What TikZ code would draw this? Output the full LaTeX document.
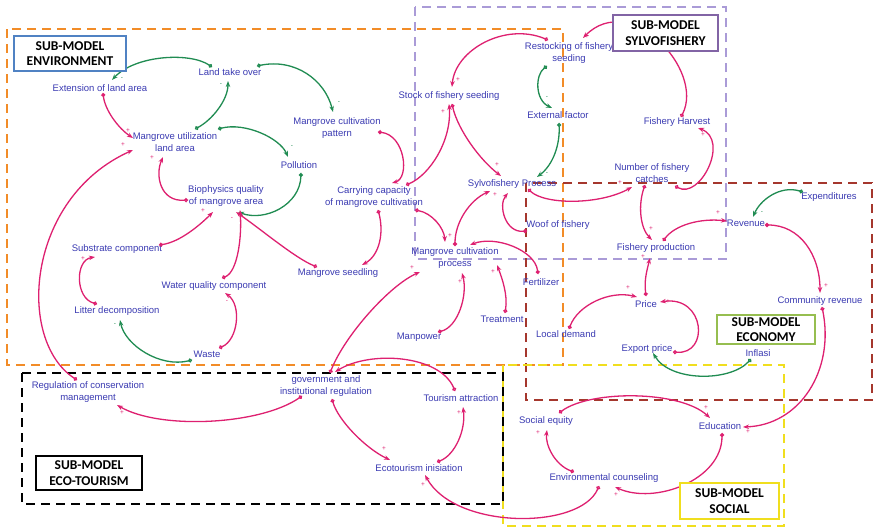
\documentclass[tikz,border=0pt]{standalone}
\usepackage{fontspec}
\setmainfont{Liberation Sans}
\newfontfamily\boxfont{Carlito}
\usetikzlibrary{arrows.meta}
\definecolor{varc}{RGB}{58,58,178}
\definecolor{pk}{RGB}{222,32,112}
\definecolor{gn}{RGB}{32,140,82}
\definecolor{orng}{RGB}{242,140,40}
\definecolor{lav}{RGB}{170,155,215}
\definecolor{brick}{RGB}{165,55,45}
\definecolor{ylw}{RGB}{240,222,30}
\definecolor{bluebox}{RGB}{80,130,195}
\definecolor{purbox}{RGB}{130,100,165}
\definecolor{grnbox}{RGB}{150,190,80}
\begin{document}
\begin{tikzpicture}[x=1pt,y=-1pt,
  var/.style={font=\fontsize{9.5}{12}\selectfont, text=varc, align=center, inner sep=0pt},
  lnk/.style={line width=1.3pt, {Circle[open,length=4pt,width=4pt]}-{Stealth[length=6pt,width=4.5pt]}},
  plk/.style={lnk, draw=pk},
  glk/.style={lnk, draw=gn},
  region/.style={line width=2.4pt, dash pattern=on 9pt off 6pt},
  smbox/.style={draw, line width=1.8pt, fill=white, align=center, inner sep=0pt,
    font=\boxfont\bfseries\fontsize{13.5}{15.5}\selectfont},
  sgp/.style={text=pk, font=\fontsize{6.5}{6.5}\selectfont, inner sep=0pt},
  sgg/.style={text=gn, font=\fontsize{6.5}{6.5}\selectfont, inner sep=0pt}]

\fill[white] (0,0) rectangle (874,530);
\useasboundingbox (0,0) rectangle (874,530);

% sub-model regions
\draw[region, lav, line width=2pt] (415,7) rectangle (726,259);
\draw[region, orng] (7,29) rectangle (563,365);
\draw[region, brick] (526,183) rectangle (872,400);
\draw[region, ylw] (503,365) rectangle (784,526);
\draw[region, black] (22,373) rectangle (503,504);

% variables
\node[var] (ext)  at (100,88)  {Extension of land area};
\node[var] (lto)  at (230,72)  {Land take over};
\node[var] (mul)  at (175,142) {Mangrove utilization\\land area};
\node[var] (pol)  at (299,165) {Pollution};
\node[var] (mcp)  at (337,128) {Mangrove cultivation\\pattern};
\node[var] (bio)  at (226,196) {Biophysics quality\\of mangrove area};
\node[var] (cc)   at (374,197) {Carrying capacity\\of mangrove cultivation};
\node[var] (sub)  at (117,249) {Substrate component};
\node[var] (wqc)  at (214,286) {Water quality component};
\node[var] (lit)  at (117,311) {Litter decomposition};
\node[var] (was)  at (207,354) {Waste};
\node[var] (msd)  at (338,273) {Mangrove seedling};
\node[var] (mcpr) at (455,258) {Mangrove cultivation\\process};
\node[var] (man)  at (419,337) {Manpower};
\node[var] (trt)  at (502,319) {Treatment};
\node[var] (fer)  at (541,282) {Fertilizer};
\node[var] (woof) at (558,225) {Woof of fishery};
\node[var] (sfp)  at (512,184) {Sylvofishery Process};
\node[var] (sfs)  at (449,96)  {Stock of fishery seeding};
\node[var] (rfs)  at (569,53)  {Restocking of fishery\\seeding};
\node[var] (exf)  at (558,115) {External factor};
\node[var] (fh)   at (677,122) {Fishery Harvest};
\node[var] (nfc)  at (652,173) {Number of fishery\\catches};
\node[var] (fp)   at (656,248) {Fishery production};
\node[var] (rev)  at (746,223) {Revenue};
\node[var] (expd) at (829,197) {Expenditures};
\node[var] (crv)  at (820,301) {Community revenue};
\node[var] (pri)  at (646,304) {Price};
\node[var] (ld)   at (566,334) {Local demand};
\node[var] (ep)   at (647,349) {Export price};
\node[var] (inf)  at (758,353) {Inflasi};
\node[var] (seq)  at (546,421) {Social equity};
\node[var] (edu)  at (720,426) {Education};
\node[var] (ec)   at (604,478) {Environmental counseling};
\node[var] (rcm)  at (88,392)  {Regulation of conservation\\management};
\node[var] (gov)  at (326,386) {government and\\institutional regulation};
\node[var] (ta)   at (461,398) {Tourism attraction};
\node[var] (ei)   at (419,468) {Ecotourism inisiation};

% environment links
\draw[glk] ([shift={(-18,-5)}]lto.center) .. controls (190,52) and (135,55) .. ([shift={(12,-8)}]ext.center);
\draw[glk] ([shift={(20,-13)}]mul.center) .. controls (212,120) and (228,100) .. ([shift={(-2,9)}]lto.center);
\draw[plk] ([shift={(3,5)}]ext.center) .. controls (105,110) and (118,128) .. ([shift={(-42,-4)}]mul.center);
\draw[glk] ([shift={(43,-13)}]mul.center) .. controls (245,122) and (280,138) .. ([shift={(-11,-8)}]pol.center);
\draw[plk] ([shift={(-11,-12)}]rcm.center) .. controls (16,340) and (26,198) .. ([shift={(-42,8)}]mul.center);
\draw[plk] ([shift={(-38,4)}]bio.center) .. controls (160,202) and (155,175) .. ([shift={(-12,15)}]mul.center);
\draw[glk] ([shift={(2,8)}]pol.center) .. controls (300,205) and (265,222) .. ([shift={(12,16)}]bio.center);
\draw[plk] ([shift={(42,-4)}]sub.center) .. controls (180,242) and (200,225) .. ([shift={(-13,16)}]bio.center);
\draw[plk] ([shift={(8,-8)}]wqc.center) .. controls (238,272) and (242,235) .. ([shift={(14,14)}]bio.center);
\draw[plk] ([shift={(-21,-6)}]msd.center) .. controls (295,258) and (262,230) .. ([shift={(10,16)}]bio.center);
\draw[plk] ([shift={(-20,-7)}]lit.center) .. controls (75,298) and (75,260) .. ([shift={(-22,8)}]sub.center);
\draw[glk] ([shift={(-15,6)}]was.center) .. controls (160,368) and (125,345) .. ([shift={(3,9)}]lit.center);
\draw[plk] ([shift={(12,-6)}]was.center) .. controls (238,340) and (242,305) .. ([shift={(11,7)}]wqc.center);
\draw[glk] ([shift={(27,-6)}]lto.center) .. controls (295,58) and (325,80) .. ([shift={(-4,-16)}]mcp.center);
\draw[plk] ([shift={(41,4)}]mcp.center) .. controls (405,135) and (410,178) .. ([shift={(18,-14)}]cc.center);
\draw[plk] ([shift={(4,13)}]cc.center) .. controls (384,232) and (380,255) .. ([shift={(24,-8)}]msd.center);
\draw[plk] ([shift={(32,-12)}]cc.center) .. controls (430,175) and (452,140) .. ([shift={(0,8)}]sfs.center);

% sylvofishery links
\draw[plk] ([shift={(-21,-13)}]rfs.center) .. controls (505,22) and (455,50) .. ([shift={(3,-9)}]sfs.center);
\draw[glk] ([shift={(-22,13)}]rfs.center) .. controls (535,75) and (535,100) .. ([shift={(-6,-7)}]exf.center);
\draw[glk] ([shift={(1,8)}]exf.center) .. controls (560,145) and (553,165) .. ([shift={(25,-7)}]sfp.center);
\draw[plk] ([shift={(4,-5)}]fh.center) .. controls (705,70) and (630,-10) .. ([shift={(14,-15)}]rfs.center);
\draw[plk] ([shift={(23,13)}]nfc.center) .. controls (700,200) and (730,140) .. ([shift={(21,6)}]fh.center);
\draw[plk] ([shift={(16,5)}]sfp.center) .. controls (545,205) and (600,205) .. ([shift={(-20,14)}]nfc.center);
\draw[plk] ([shift={(-31,6)}]woof.center) .. controls (505,233) and (498,205) .. ([shift={(-4,9)}]sfp.center);
\draw[plk] ([shift={(0,-12)}]mcpr.center) .. controls (455,222) and (470,200) .. ([shift={(-22,7)}]sfp.center);
\draw[plk] ([shift={(3,8)}]sfs.center) .. controls (458,130) and (480,160) .. ([shift={(-11,-8)}]sfp.center);
\draw[plk] ([shift={(41,13)}]cc.center) .. controls (432,213) and (444,228) .. ([shift={(-10,-16)}]mcpr.center);
\draw[plk] ([shift={(-3,-8)}]fer.center) .. controls (535,250) and (495,235) .. ([shift={(15,-13)}]mcpr.center);
\draw[plk] ([shift={(3,-6)}]trt.center) .. controls (508,295) and (502,278) .. ([shift={(42,7)}]mcpr.center);
\draw[plk] ([shift={(19,-5)}]man.center) .. controls (458,327) and (468,295) .. ([shift={(7,15)}]mcpr.center);
\draw[plk] ([shift={(4,-13)}]gov.center) .. controls (345,335) and (390,285) .. ([shift={(-35,14)}]mcpr.center);

% economy links
\draw[plk] ([shift={(-7,12)}]nfc.center) .. controls (638,205) and (640,228) .. ([shift={(-4,-8)}]fp.center);
\draw[plk] ([shift={(7,-7)}]fp.center) .. controls (675,225) and (700,218) .. ([shift={(-19,-2)}]rev.center);
\draw[glk] ([shift={(-26,-5)}]expd.center) .. controls (780,185) and (760,200) .. ([shift={(7,-6)}]rev.center);
\draw[plk] ([shift={(19,2)}]rev.center) .. controls (800,225) and (820,255) .. ([shift={(0,-8)}]crv.center);
\draw[plk] ([shift={(2,6)}]crv.center) .. controls (835,370) and (800,425) .. ([shift={(23,1)}]edu.center);
\draw[plk] ([shift={(0,-8)}]pri.center) .. controls (644,280) and (647,270) .. ([shift={(-6,10)}]fp.center);
\draw[plk] ([shift={(3,-5)}]ld.center) .. controls (578,305) and (610,290) .. ([shift={(-9,-7)}]pri.center);
\draw[plk] ([shift={(26,3)}]ep.center) .. controls (710,355) and (705,295) .. ([shift={(14,-2)}]pri.center);
\draw[glk] ([shift={(-7,6)}]inf.center) .. controls (730,382) and (670,382) .. ([shift={(6,4)}]ep.center);

% social links
\draw[plk] ([shift={(13,-8)}]seq.center) .. controls (590,390) and (680,390) .. ([shift={(-10,-8)}]edu.center);
\draw[plk] ([shift={(-30,-6)}]ec.center) .. controls (555,465) and (545,445) .. ([shift={(1,9)}]seq.center);
\draw[plk] ([shift={(2,7)}]edu.center) .. controls (722,480) and (655,505) .. ([shift={(11,9)}]ec.center);
\draw[plk] ([shift={(-5,8)}]ec.center) .. controls (580,530) and (455,530) .. ([shift={(6,7)}]ei.center);

% eco-tourism links
\draw[plk] ([shift={(-24,10)}]gov.center) .. controls (260,425) and (160,430) .. ([shift={(29,13)}]rcm.center);
\draw[plk] ([shift={(6,13)}]gov.center) .. controls (338,420) and (365,448) .. ([shift={(-29,-8)}]ei.center);
\draw[plk] ([shift={(18,-6)}]ei.center) .. controls (455,455) and (466,430) .. ([shift={(2,9)}]ta.center);
\draw[plk] ([shift={(-6,-7)}]ta.center) .. controls (440,355) and (370,350) .. ([shift={(9,-14)}]gov.center);

% polarity signs
\foreach \p [count=\i] in {(128,131),(123,145),(152,158),(203,211),(83,259),(443,112),(458,80),
  (587,37),(703,135),(620,183),(495,195),(497,165),(450,236),(493,272),(460,282),(412,268),
  (651,229),(718,213),(826,286),(748,432),(643,257),(628,288),(668,302),(706,408),(538,433),
  (616,495),(423,485),(122,413),(384,449),(459,413)}
  \node[sgp] (plus\i) at \p {+};
\foreach \p [count=\i] in {(232,219),(227,302)}
  \node[sgp] (minp\i) at \p {-};
\foreach \p [count=\i] in {(122,79),(221,85),(292,147),(115,325),(339,103),(547,98),(547,174),(762,213)}
  \node[sgg] (ming\i) at \p {-};

% sub-model labels
\node[smbox, draw=bluebox, minimum width=112pt, minimum height=35pt] (lblenv) at (70,53.5) {SUB-MODEL\\ENVIRONMENT};
\node[smbox, draw=purbox, minimum width=105pt, minimum height=36pt] (lblsyl) at (665.5,33) {SUB-MODEL\\SYLVOFISHERY};
\node[smbox, draw=grnbox, minimum width=98pt, minimum height=29pt] (lbleco) at (766,329.5) {SUB-MODEL\\ECONOMY};
\node[smbox, draw=ylw, minimum width=99pt, minimum height=36pt] (lblsoc) at (729.5,501) {SUB-MODEL\\SOCIAL};
\node[smbox, draw=black, minimum width=106pt, minimum height=34pt] (lbltour) at (89,473) {SUB-MODEL\\ECO-TOURISM};
\end{tikzpicture}
\end{document}
